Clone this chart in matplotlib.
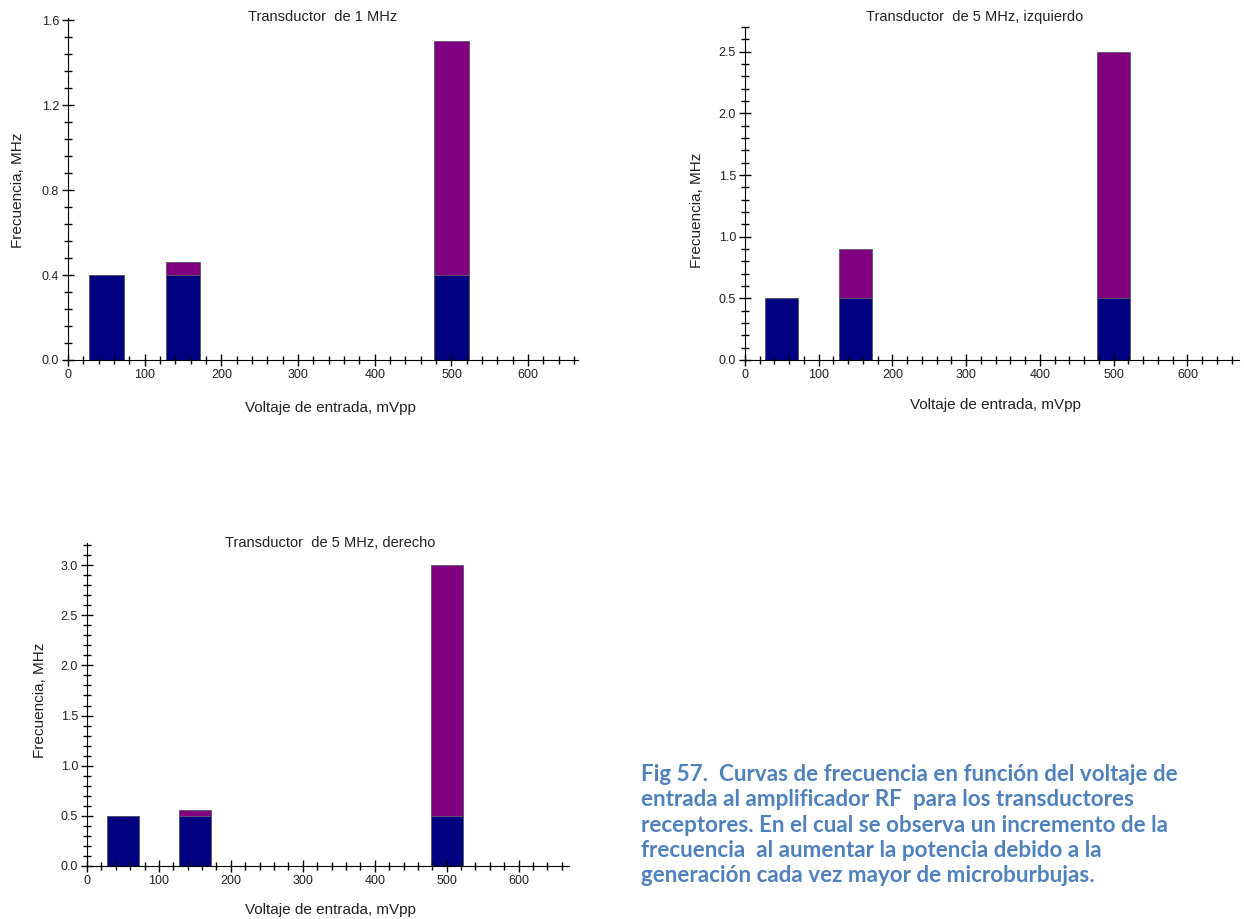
import numpy as np
import matplotlib
matplotlib.use("Agg")
from matplotlib import pyplot as plt
from matplotlib.ticker import MultipleLocator

plt.rcParams['font.family'] = ['Liberation Sans', 'DejaVu Sans']

# data: input voltage (mVpp) and frequency (MHz), base + extra stacked part
voltaje = [50, 150, 500]
base_1mhz = [0.4, 0.4, 0.4]
extra_1mhz = [0.0, 0.06, 1.1]
base_5izq = [0.5, 0.5, 0.5]
extra_5izq = [0.0, 0.4, 2.0]
base_5der = [0.5, 0.5, 0.5]
extra_5der = [0.0, 0.06, 2.5]

titulos = ["Transductor  de 1 MHz", "Transductor  de 5 MHz, izquierdo",
           "Transductor  de 5 MHz, derecho"]
xlabel = "Voltaje de entrada, mVpp"
ylabel = "Frecuencia, MHz"
caption = ("Fig 57.  Curvas de frecuencia en función del voltaje de\n"
           "entrada al amplificador RF  para los transductores\n"
           "receptores. En el cual se observa un incremento de la\n"
           "frecuencia  al aumentar la potencia debido a la\n"
           "generación cada vez mayor de microburbujas.")

W, H = 1244, 919
fig = plt.figure(figsize=(W / 100, H / 100), dpi=100)


def px(x, y):
    return x / W, 1 - y / H


def panel(rect, base, extra, xmax, ymax, ymaj, ymin, title, tpos, xlpos, ylpos):
    ax = fig.add_axes(rect)
    ax.bar(voltaje, base, width=45, color='#000080', edgecolor='#555566', linewidth=0.6)
    ax.bar(voltaje, extra, width=45, bottom=base, color='#800080',
           edgecolor='#555566', linewidth=0.6)
    ax.set_xlim(0, xmax)
    ax.set_ylim(0, ymax)
    ax.spines['top'].set_visible(False)
    ax.spines['right'].set_visible(False)
    ax.xaxis.set_major_locator(MultipleLocator(100))
    ax.xaxis.set_minor_locator(MultipleLocator(20))
    ax.yaxis.set_major_locator(MultipleLocator(ymaj))
    ax.yaxis.set_minor_locator(MultipleLocator(ymin))
    ax.yaxis.set_major_formatter(matplotlib.ticker.FormatStrFormatter('%.1f'))
    ax.tick_params(which='major', direction='inout', length=9, width=1,
                   labelsize=9, labelcolor='#222222', pad=2)
    ax.tick_params(which='minor', direction='inout', length=6, width=1)
    ax.patch.set_alpha(0)
    fig.text(*px(*tpos), title, ha='center', va='center', fontsize=10.5, color='#222222')
    fig.text(*px(*xlpos), xlabel, ha='center', va='center', fontsize=11, color='#222222')
    fig.text(*px(*ylpos), ylabel, ha='center', va='center', fontsize=11,
             color='#222222', rotation=90)
    return ax


panel([68 / W, 1 - 360 / H, 510 / W, 342 / H], base_1mhz, extra_1mhz, 665, 1.61, 0.4, 0.08,
      titulos[0], (323, 17), (330, 408), (18, 190))
panel([745 / W, 1 - 360 / H, 494 / W, 333 / H], base_5izq, extra_5izq, 670, 2.7, 0.5, 0.1,
      titulos[1], (975, 17), (995, 405), (697, 210))
panel([87 / W, 1 - 866 / H, 482 / W, 323 / H], base_5der, extra_5der, 670, 3.22, 0.5, 0.1,
      titulos[2], (330, 543), (330, 910), (40, 700))

fig.text(*px(641, 764), caption, ha='left', va='top', fontsize=16.1, fontweight='bold',
         family=['Lato', 'DejaVu Sans'], color='#4F81BD', linespacing=1.25)

fig.savefig('out.png', dpi=100)
